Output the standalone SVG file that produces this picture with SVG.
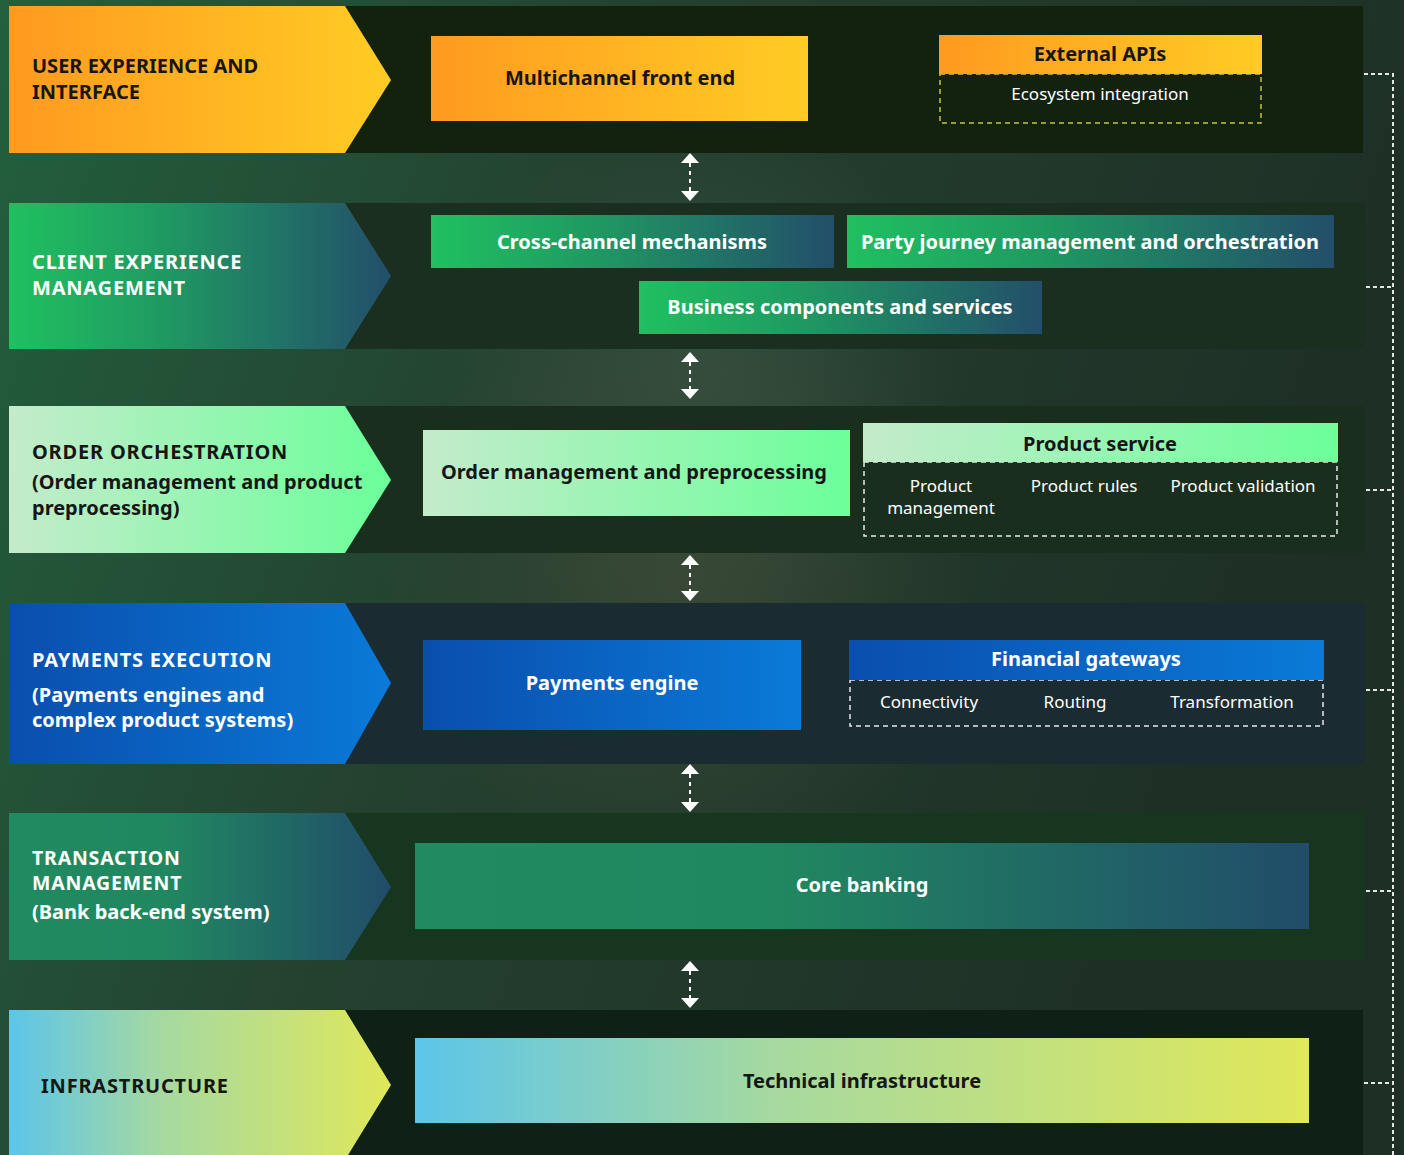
<svg xmlns="http://www.w3.org/2000/svg" width="1404" height="1155" viewBox="0 0 1404 1155">
<defs>
<linearGradient id="bg" x1="0" y1="0" x2="1" y2="0.3">
<stop offset="0" stop-color="#22603e"/>
<stop offset="0.45" stop-color="#24402f"/>
<stop offset="1" stop-color="#1e2f25"/>
</linearGradient>
<radialGradient id="glow1" cx="700" cy="370" r="260" gradientUnits="userSpaceOnUse">
<stop offset="0" stop-color="#3a5545" stop-opacity="0.7"/>
<stop offset="1" stop-color="#3a5545" stop-opacity="0"/>
</radialGradient>
<radialGradient id="glow2" cx="680" cy="585" r="300" gradientUnits="userSpaceOnUse">
<stop offset="0" stop-color="#3e4a38" stop-opacity="0.8"/>
<stop offset="1" stop-color="#3e4a38" stop-opacity="0"/>
</radialGradient>
<linearGradient id="gOrange" x1="0" y1="0" x2="1" y2="0">
<stop offset="0" stop-color="#ff9a20"/>
<stop offset="1" stop-color="#ffcc24"/>
</linearGradient>
<linearGradient id="gGreenBlue" x1="0" y1="0" x2="1" y2="0">
<stop offset="0" stop-color="#20c060"/>
<stop offset="0.4" stop-color="#1f9a62"/>
<stop offset="1" stop-color="#234e6a"/>
</linearGradient>
<linearGradient id="gLight" x1="0" y1="0" x2="1" y2="0">
<stop offset="0" stop-color="#c4ebcb"/>
<stop offset="1" stop-color="#6cff9a"/>
</linearGradient>
<linearGradient id="gBlue" x1="0" y1="0" x2="1" y2="0">
<stop offset="0" stop-color="#0a4ead"/>
<stop offset="1" stop-color="#0a7ad8"/>
</linearGradient>
<linearGradient id="gTeal" x1="0" y1="0" x2="1" y2="0">
<stop offset="0" stop-color="#208a60"/>
<stop offset="0.4" stop-color="#208860"/>
<stop offset="1" stop-color="#214c6a"/>
</linearGradient>
<linearGradient id="gInfra" x1="0" y1="0" x2="1" y2="0">
<stop offset="0" stop-color="#5cc5ea"/>
<stop offset="0.4" stop-color="#a6d9a0"/>
<stop offset="1" stop-color="#e0e85a"/>
</linearGradient>
<marker id="ah" viewBox="0 0 10 18" refX="0" refY="9" markerWidth="10" markerHeight="18" markerUnits="userSpaceOnUse" orient="auto-start-reverse">
<path d="M0,0 L10,9 L0,18 Z" fill="#ffffff"/>
</marker>
</defs>
<style>
.lbl{font-family:"Noto Sans","Liberation Sans",sans-serif;font-weight:700;font-size:20px}
.cap{letter-spacing:0.8px}
.box{font-family:"Noto Sans","Liberation Sans",sans-serif;font-weight:700;font-size:20px;text-anchor:middle}
.sub{font-family:"Noto Sans","Liberation Sans",sans-serif;font-weight:400;font-size:17px;fill:#ffffff;text-anchor:middle}
.dk{fill:#161616}
.wt{fill:#ffffff}
.dash{fill:none;stroke:#e8e8e8;stroke-width:1.5;stroke-dasharray:5 4}
.conn{fill:none;stroke:#ffffff;stroke-width:2;stroke-dasharray:4 4}
.side{fill:none;stroke:#e6e6e6;stroke-width:2;stroke-dasharray:4 3}
</style>
<rect width="1404" height="1155" fill="url(#bg)"/>
<rect width="1404" height="1155" fill="url(#glow1)"/>
<rect width="1404" height="1155" fill="url(#glow2)"/>

<g id="layer-user-experience">
<rect x="9" y="6" width="1354" height="147" fill="#13210f"/>
<path d="M9,6 H345 L391,80 L345,153 H9 Z" fill="url(#gOrange)"/>
<text class="lbl dk"><tspan x="32" y="73">USER EXPERIENCE AND</tspan><tspan x="32" y="99">INTERFACE</tspan></text>
</g>
<g id="node-multichannel">
<rect x="431" y="36" width="377" height="85" fill="url(#gOrange)"/>
<text class="box dk" x="620" y="85">Multichannel front end</text>
</g>
<g id="node-external-apis">
<rect x="940" y="74" width="321" height="49" fill="none" stroke="#c5c53a" stroke-width="1.5" stroke-dasharray="5 4"/>
<rect x="939" y="35" width="323" height="39" fill="url(#gOrange)"/>
<text class="box dk" x="1100" y="61">External APIs</text>
<text class="sub" x="1100" y="100" font-size="16">Ecosystem integration</text>
</g>

<g id="layer-client-experience">
<rect x="9" y="203" width="1356" height="146" fill="#1a2f1f"/>
<path d="M9,203 H345 L391,276 L345,349 H9 Z" fill="url(#gGreenBlue)"/>
<text class="lbl wt cap"><tspan x="32" y="269">CLIENT EXPERIENCE</tspan><tspan x="32" y="295">MANAGEMENT</tspan></text>
</g>
<g id="node-cross-channel">
<rect x="431" y="215" width="403" height="53" fill="url(#gGreenBlue)"/>
<text class="box wt" x="632" y="249">Cross-channel mechanisms</text>
</g>
<g id="node-party-journey">
<rect x="847" y="215" width="487" height="53" fill="url(#gGreenBlue)"/>
<text class="box wt" x="1090" y="249">Party journey management and orchestration</text>
</g>
<g id="node-business-components">
<rect x="639" y="281" width="403" height="53" fill="url(#gGreenBlue)"/>
<text class="box wt" x="840" y="314">Business components and services</text>
</g>

<g id="layer-order-orchestration">
<rect x="9" y="406" width="1356" height="147" fill="#1a2e1e"/>
<path d="M9,406 H345 L391,480 L345,553 H9 Z" fill="url(#gLight)"/>
<text class="lbl dk"><tspan x="32" y="459" class="cap">ORDER ORCHESTRATION</tspan><tspan x="32" y="489">(Order management and product</tspan><tspan x="32" y="515">preprocessing)</tspan></text>
</g>
<g id="node-order-management">
<rect x="423" y="430" width="427" height="86" fill="url(#gLight)"/>
<text class="box dk" x="634" y="479">Order management and preprocessing</text>
</g>
<g id="node-product-service">
<rect x="864" y="462" width="473" height="74" class="dash"/>
<rect x="863" y="423" width="475" height="39" fill="url(#gLight)"/>
<text class="box dk" x="1100" y="451">Product service</text>
<text class="sub"><tspan x="941" y="492">Product</tspan><tspan x="941" y="514">management</tspan></text>
<text class="sub" x="1084" y="492">Product rules</text>
<text class="sub" x="1243" y="492">Product validation</text>
</g>

<g id="layer-payments-execution">
<rect x="9" y="603" width="1356" height="161" fill="#1a2b31"/>
<path d="M9,603 H345 L391,683 L345,764 H9 Z" fill="url(#gBlue)"/>
<text class="lbl wt"><tspan x="32" y="667" class="cap">PAYMENTS EXECUTION</tspan><tspan x="32" y="702">(Payments engines and</tspan><tspan x="32" y="727">complex product systems)</tspan></text>
</g>
<g id="node-payments-engine">
<rect x="423" y="640" width="378" height="90" fill="url(#gBlue)"/>
<text class="box wt" x="612" y="690">Payments engine</text>
</g>
<g id="node-financial-gateways">
<rect x="850" y="680" width="473" height="46" class="dash"/>
<rect x="849" y="640" width="475" height="40" fill="url(#gBlue)"/>
<text class="box wt" x="1086" y="666">Financial gateways</text>
<text class="sub" x="929" y="708">Connectivity</text>
<text class="sub" x="1075" y="708">Routing</text>
<text class="sub" x="1232" y="708">Transformation</text>
</g>

<g id="layer-transaction-management">
<rect x="9" y="813" width="1356" height="147" fill="#17361f"/>
<path d="M9,813 H345 L391,887 L345,960 H9 Z" fill="url(#gTeal)"/>
<text class="lbl wt"><tspan x="32" y="865" class="cap" font-size="19.5">TRANSACTION</tspan><tspan x="32" y="890" class="cap" font-size="19.5">MANAGEMENT</tspan><tspan x="32" y="919">(Bank back-end system)</tspan></text>
</g>
<g id="node-core-banking">
<rect x="415" y="843" width="894" height="86" fill="url(#gTeal)"/>
<text class="box wt" x="862" y="892">Core banking</text>
</g>

<g id="layer-infrastructure">
<rect x="9" y="1010" width="1354" height="150" fill="#0f2016"/>
<path d="M9,1010 H345 L391,1085 L345,1160 H9 Z" fill="url(#gInfra)"/>
<text class="lbl dk cap" x="41" y="1093">INFRASTRUCTURE</text>
</g>
<g id="node-technical-infrastructure">
<rect x="415" y="1038" width="894" height="85" fill="url(#gInfra)"/>
<text class="box dk" x="862" y="1088">Technical infrastructure</text>
</g>

<g id="connectors">
<line class="conn" x1="690" y1="163" x2="690" y2="191" marker-start="url(#ah)" marker-end="url(#ah)"/>
<line class="conn" x1="690" y1="362" x2="690" y2="389" marker-start="url(#ah)" marker-end="url(#ah)"/>
<line class="conn" x1="690" y1="565" x2="690" y2="591" marker-start="url(#ah)" marker-end="url(#ah)"/>
<line class="conn" x1="690" y1="774" x2="690" y2="802" marker-start="url(#ah)" marker-end="url(#ah)"/>
<line class="conn" x1="690" y1="971" x2="690" y2="998" marker-start="url(#ah)" marker-end="url(#ah)"/>
<path class="side" d="M1364,74 H1393 V1155"/>
<path class="side" d="M1366,287 H1393"/>
<path class="side" d="M1366,490 H1393"/>
<path class="side" d="M1366,690 H1393"/>
<path class="side" d="M1366,891 H1393"/>
<path class="side" d="M1364,1083 H1393"/>
</g>
</svg>
